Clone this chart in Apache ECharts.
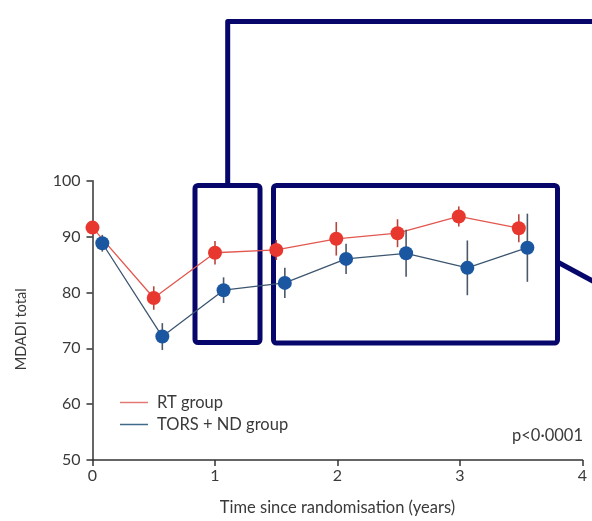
<!DOCTYPE html>
<html>
<head>
<meta charset="utf-8">
<script src="https://cdn.jsdelivr.net/npm/echarts@6/dist/echarts.min.js"></script>
<style>
  html, body { margin: 0; padding: 0; background: #fff; }
  #chart { width: 592px; height: 521px; }
</style>
</head>
<body>
<div id="chart"></div>
<script>
// Follow-up times (years) and MDADI totals with error bar half-widths
const rtTime = [0, 0.5, 1.0, 1.5, 1.99, 2.49, 2.99, 3.48];
const rtMean = [91.6, 79.0, 87.1, 87.6, 89.6, 90.6, 93.6, 91.5];
const rtErr = [1.0, 2.1, 2.1, 1.8, 3.0, 2.5, 1.8, 2.5];

const torsTime = [0.08, 0.57, 1.07, 1.57, 2.07, 2.56, 3.06, 3.55];
const torsMean = [88.8, 72.1, 80.4, 81.7, 86.0, 87.0, 84.4, 88.0];
const torsErr = [1.5, 2.4, 2.3, 2.7, 2.7, 4.2, 4.9, 6.1];

const xTicks = [0, 1, 2, 3, 4];
const yTicks = [50, 60, 70, 80, 90, 100];

const seriesNames = ['RT group', 'TORS + ND group'];
const pValueText = 'p<0\u00b70001';

const FONT = 'Lato';
const TEXT = '#3a3a3a';
const AXIS = '#333';
const NAVY = '#07076b';

const RED = { marker: '#e8372f', line: '#e2574f', bar: '#b9443e', legend: '#e07a72' };
const BLUE = { marker: '#1b56a0', line: '#3d5670', bar: '#4b5868', legend: '#3f6a8a' };

function pairs(t, v) { return t.map((x, i) => [x, v[i]]); }
function bars(t, v, e) { return t.map((x, i) => [x, v[i] - e[i], v[i] + e[i]]); }

function errorSeries(name, data, color, z) {
  return {
    name: name,
    type: 'custom',
    z: z,
    silent: true,
    encode: { x: 0, y: [1, 2] },
    data: data,
    renderItem: function (params, api) {
      const lo = api.coord([api.value(0), api.value(1)]);
      const hi = api.coord([api.value(0), api.value(2)]);
      return {
        type: 'line',
        shape: { x1: lo[0], y1: lo[1], x2: hi[0], y2: hi[1] },
        style: { stroke: color, lineWidth: 1.6 }
      };
    }
  };
}

function meanSeries(name, data, c, z) {
  return {
    name: name,
    type: 'line',
    z: z,
    data: data,
    symbol: 'circle',
    symbolSize: 14,
    lineStyle: { color: c.line, width: 1.3 },
    itemStyle: { color: c.marker, borderWidth: 0 },
    emphasis: { disabled: true },
    animation: false
  };
}

const chart = echarts.init(document.getElementById('chart'), null, { renderer: 'canvas' });

chart.setOption({
  animation: false,
  backgroundColor: '#ffffff',
  textStyle: { fontFamily: FONT },
  grid: { left: 92.5, right: 9.5, top: 180.7, bottom: 60, containLabel: false },
  legend: {
    left: 120,
    top: 394,
    orient: 'vertical',
    padding: 0,
    itemGap: 5,
    itemWidth: 28,
    itemHeight: 1.5,
    icon: 'rect',
    selectedMode: false,
    textStyle: { fontFamily: FONT, fontSize: 16.5, color: TEXT, padding: [0, 0, 0, 4] },
    data: [
      { name: seriesNames[0], itemStyle: { color: RED.legend } },
      { name: seriesNames[1], itemStyle: { color: BLUE.legend } }
    ]
  },
  xAxis: {
    type: 'value',
    min: xTicks[0],
    max: xTicks[xTicks.length - 1],
    interval: 1,
    name: 'Time since randomisation (years)',
    nameLocation: 'middle',
    nameGap: 39,
    nameTextStyle: { fontFamily: FONT, fontSize: 16.5, color: TEXT },
    axisLine: { lineStyle: { color: AXIS, width: 1.5 } },
    axisTick: { length: 6, lineStyle: { color: AXIS, width: 1.5 } },
    axisLabel: { margin: 8, fontFamily: FONT, fontSize: 16, color: TEXT },
    splitLine: { show: false }
  },
  yAxis: {
    type: 'value',
    min: yTicks[0],
    max: yTicks[yTicks.length - 1],
    interval: 10,
    name: 'MDADI total',
    nameLocation: 'middle',
    nameGap: 64,
    nameTextStyle: { fontFamily: FONT, fontSize: 14.5, color: TEXT, padding: [0, 0, 0, -18] },
    axisLine: { show: true, lineStyle: { color: AXIS, width: 1.5 } },
    axisTick: { show: true, length: 6, lineStyle: { color: AXIS, width: 1.5 } },
    axisLabel: { margin: 12, fontFamily: FONT, fontSize: 16, color: TEXT },
    splitLine: { show: false }
  },
  series: [
    errorSeries(seriesNames[0], bars(rtTime, rtMean, rtErr), RED.bar, 2),
    meanSeries(seriesNames[0], pairs(rtTime, rtMean), RED, 3),
    errorSeries(seriesNames[1], bars(torsTime, torsMean, torsErr), BLUE.bar, 4),
    meanSeries(seriesNames[1], pairs(torsTime, torsMean), BLUE, 5)
  ],
  graphic: [
    {
      type: 'text',
      right: 9,
      top: 427,
      style: { text: pValueText, font: '16.5px ' + FONT, fill: TEXT }
    },
    // highlight frames with connectors
    {
      type: 'group',
      z: 100,
      children: [
        {
          type: 'rect',
          shape: { x: 195, y: 185.5, width: 65, height: 157, r: 3 },
          style: { fill: 'none', stroke: NAVY, lineWidth: 5 }
        },
        {
          type: 'rect',
          shape: { x: 273.5, y: 185.5, width: 284, height: 157.5, r: 3 },
          style: { fill: 'none', stroke: NAVY, lineWidth: 5 }
        },
        {
          type: 'polyline',
          shape: { points: [[227.7, 185.5], [227.7, 21.5], [600, 21.5]] },
          style: { fill: 'none', stroke: NAVY, lineWidth: 5, lineJoin: 'round' }
        },
        {
          type: 'line',
          shape: { x1: 557.5, y1: 262, x2: 600, y2: 285 },
          style: { stroke: NAVY, lineWidth: 5 }
        }
      ]
    }
  ]
});
</script>
</body>
</html>
